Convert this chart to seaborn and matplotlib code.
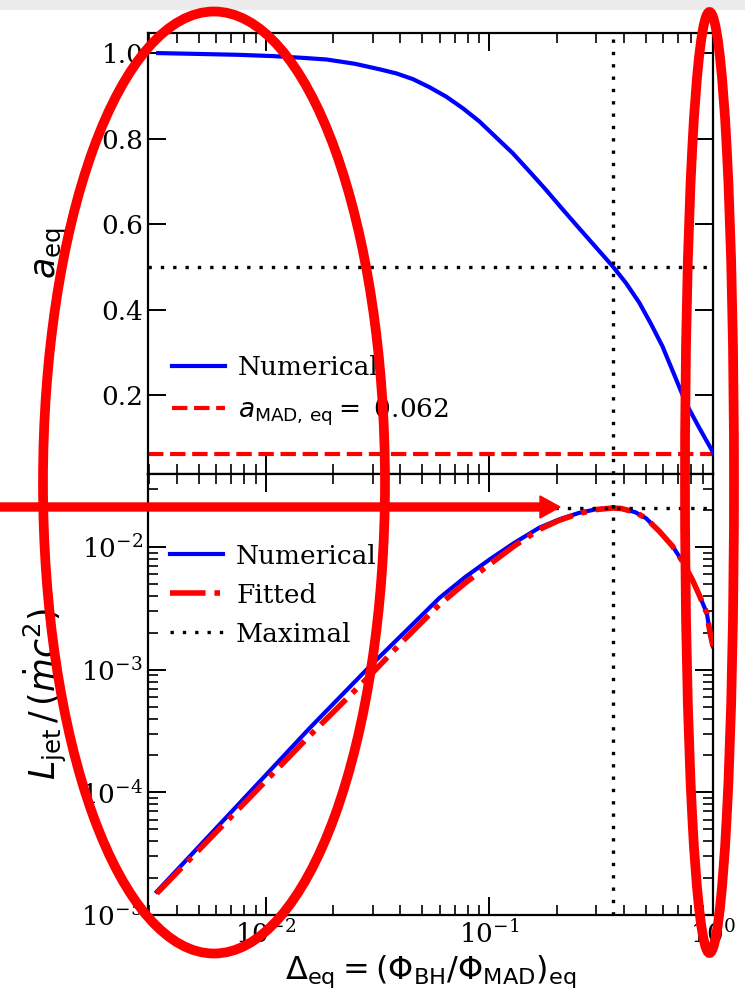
import numpy as np
import pandas as pd
import seaborn as sns
import matplotlib
matplotlib.use("Agg")
import matplotlib.pyplot as plt
from matplotlib.patches import Ellipse, FancyArrow, Rectangle
from matplotlib.ticker import LogLocator, NullFormatter, NullLocator

# ---------------- data ----------------
delta_top = [0.0033, 0.005, 0.0075, 0.0107, 0.0145, 0.0187, 0.025, 0.0323, 0.0383,
             0.0455, 0.054, 0.0641, 0.076, 0.0902, 0.107, 0.127, 0.151, 0.179,
             0.212, 0.252, 0.299, 0.356, 0.408, 0.468, 0.527, 0.594, 0.670,
             0.755, 0.866, 1.0]
a_eq = [1.0, 0.998, 0.996, 0.993, 0.989, 0.985, 0.975, 0.962, 0.9525,
        0.939, 0.920, 0.898, 0.871, 0.840, 0.803, 0.766, 0.723, 0.680,
        0.635, 0.590, 0.546, 0.501, 0.462, 0.416, 0.367, 0.314, 0.248,
        0.182, 0.124, 0.066]

delta_bot = [0.00325, 0.00715, 0.0157, 0.0291, 0.0415, 0.0598, 0.078, 0.1, 0.129,
             0.167, 0.205, 0.252, 0.299, 0.356, 0.39, 0.45, 0.501, 0.574, 0.658,
             0.73, 0.809, 0.866, 0.938, 0.97, 1.0]
L_num = [1.55e-5, 7.2e-5, 3.34e-4, 1.06e-3, 2.0e-3, 3.85e-3, 5.7e-3, 7.9e-3, 1.08e-2,
         1.436e-2, 1.68e-2, 1.90e-2, 2.03e-2, 2.09e-2, 2.06e-2, 1.92e-2, 1.72e-2, 1.35e-2, 1.02e-2,
         7.65e-3, 5.4e-3, 4.1e-3, 2.9e-3, 2.0e-3, 1.55e-3]
L_fit = [1.50e-5, 6.6e-5, 2.9e-4, 8.9e-4, 1.75e-3, 3.4e-3, 5.1e-3, 7.2e-3, 1.02e-2,
         1.39e-2, 1.65e-2, 1.88e-2, 2.02e-2, 2.08e-2, 2.06e-2, 1.92e-2, 1.72e-2, 1.35e-2, 1.02e-2,
         7.65e-3, 5.4e-3, 4.1e-3, 2.9e-3, 2.0e-3, 1.55e-3]

a_mad = 0.062
a_half = 0.5
delta_max = 0.358
L_max = 0.0209

x_ticks = [1e-2, 1e-1, 1e0]
a_ticks = [0.2, 0.4, 0.6, 0.8, 1.0]
a_tick_labels = ["0.2", "0.4", "0.6", "0.8", "1.0"]
L_ticks = [1e-5, 1e-4, 1e-3, 1e-2]

# ---------------- style ----------------
plt.rcParams.update({
    "font.family": ["DejaVu Serif"],
    "mathtext.fontset": "dejavusans",
    "axes.linewidth": 1.6,
    "xtick.direction": "in",
    "ytick.direction": "in",
    "xtick.top": True,
    "ytick.right": True,
    "xtick.major.size": 13,
    "ytick.major.size": 13,
    "xtick.minor.size": 7,
    "ytick.minor.size": 7,
    "xtick.major.width": 1.4,
    "ytick.major.width": 1.4,
    "xtick.minor.width": 1.2,
    "ytick.minor.width": 1.2,
    "xtick.labelsize": 19,
    "ytick.labelsize": 19,
})
FS = 19

W, H = 745, 996
fig = plt.figure(figsize=(W / 100, H / 100), dpi=100)
ax1, ax2 = fig.subplots(2, 1)
fig.subplots_adjust(left=148 / W, right=713 / W, top=1 - 33 / H, bottom=1 - 915 / H, hspace=0)
for ax in (ax1, ax2):
    ax.tick_params(which="both", direction="in", top=True, right=True, bottom=True, left=True)

dot = dict(color="black", lw=2.4, dashes=(1, 2.7), zorder=4)

# ---- top panel ----
sns.lineplot(x=delta_top, y=a_eq, ax=ax1, color="blue", lw=3, label="Numerical", sort=False, zorder=3)
ax1.axhline(a_mad, color="red", lw=3, ls="--", label=r"$a_{\rm MAD,\,eq} =$ 0.062", zorder=2)
ax1.axhline(a_half, **dot)
ax1.axvline(delta_max, **dot)
ax1.set_xscale("log")
ax1.set_xlim(0.00297, 1.0)
ax1.set_xticks(x_ticks)
ax1.xaxis.set_minor_locator(LogLocator(base=10, subs=np.arange(2, 10), numticks=30))
ax1.xaxis.set_minor_formatter(NullFormatter())
ax1.set_xticklabels([])
ax1.set_xlabel("")
ax1.set_ylim(0.0151, 1.047)
ax1.set_yticks(a_ticks)
ax1.set_yticklabels(a_tick_labels)
ax1.yaxis.set_minor_locator(NullLocator())
ax1.set_ylabel(r"$a_{\rm eq}$", fontsize=25)
ax1.legend(loc="upper left", bbox_to_anchor=(0.0425, 0.269), frameon=False,
           fontsize=FS, borderpad=0, borderaxespad=0, handlelength=2.0,
           handletextpad=0.5, labelspacing=0.6)

# ---- bottom panel ----
sns.lineplot(x=delta_bot, y=L_num, ax=ax2, color="blue", lw=3, label="Numerical", sort=False, zorder=2)
sns.lineplot(x=delta_bot, y=L_fit, ax=ax2, color="red", lw=4, linestyle="-.", label="Fitted", sort=False, zorder=3)
ax2.axhline(L_max, label="Maximal", **dot)
ax2.axvline(delta_max, **dot)
ax2.set_xscale("log")
ax2.set_yscale("log")
ax2.set_xlim(0.00297, 1.0)
ax2.set_ylim(1e-5, 0.0394)
ax2.set_xticks(x_ticks)
ax2.set_yticks(L_ticks)
ax2.xaxis.set_minor_locator(LogLocator(base=10, subs=np.arange(2, 10), numticks=30))
ax2.yaxis.set_minor_locator(LogLocator(base=10, subs=np.arange(2, 10), numticks=30))
ax2.xaxis.set_minor_formatter(NullFormatter())
ax2.yaxis.set_minor_formatter(NullFormatter())
ax2.set_ylabel(r"$L_{\rm jet}\,/\,(\dot{m}c^2)$", fontsize=25)
ax2.set_xlabel(r"$\Delta_{\rm eq} = (\Phi_{\rm BH}/\Phi_{\rm MAD})_{\rm eq}$", fontsize=23, labelpad=4)
ax2.legend(loc="upper left", bbox_to_anchor=(0.039, 0.842), frameon=False,
           fontsize=FS, borderpad=0, borderaxespad=0, handlelength=2.0,
           handletextpad=0.5, labelspacing=0.53)

for ax in (ax1, ax2):
    ax.yaxis.set_label_coords(-0.14, 0.5)

# ---------------- annotation overlay (pixel coords, origin top-left) ----------------
ov = fig.add_axes([0, 0, 1, 1], zorder=10)
ov.set_xlim(0, W)
ov.set_ylim(H, 0)
ov.axis("off")
ov.patch.set_alpha(0)
ov.add_patch(Rectangle((0, 0), W, 10, facecolor="#ececec", edgecolor="none"))
for (cx, cy, ew, eh) in [(214, 482.5, 342, 942), (709.5, 482.5, 49, 941)]:
    ov.add_patch(Ellipse((cx, cy), ew, eh, fill=False, edgecolor="#ff0000", lw=7))
ov.add_patch(FancyArrow(0, 507, 560, 0, width=8, head_width=22, head_length=20,
                        length_includes_head=True, color="#ff0000"))

fig.savefig("out.png", dpi=100)
